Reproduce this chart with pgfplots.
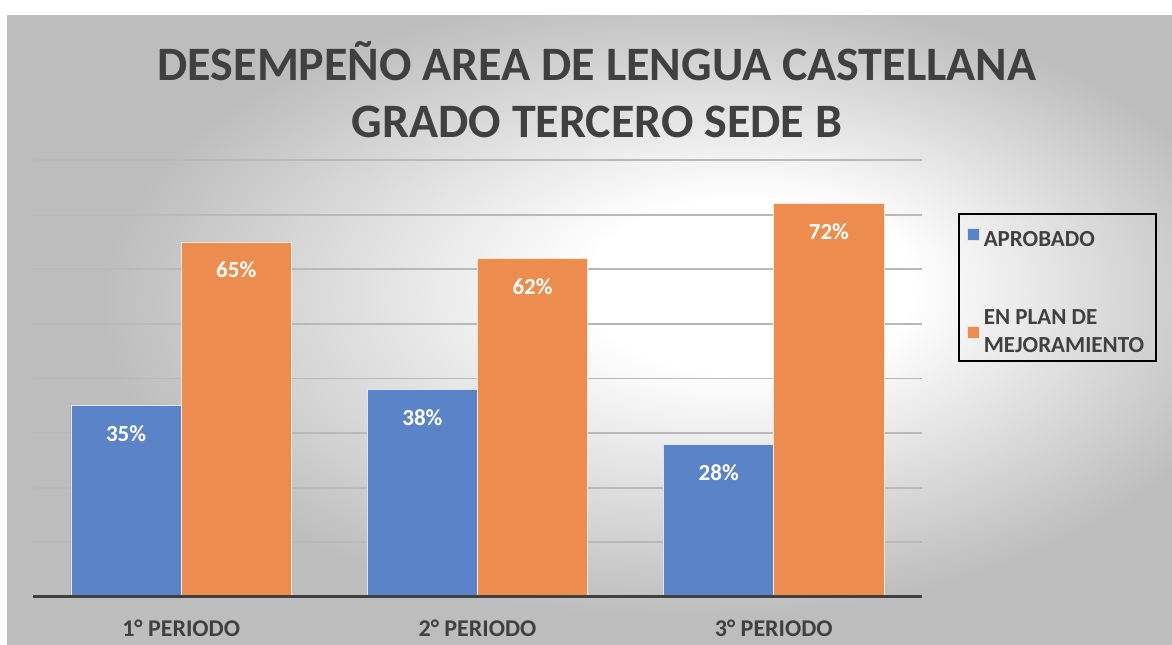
\documentclass[border=0pt]{standalone}
\usepackage{fontspec}
\setmainfont{Carlito}
\usepackage{pgfplots}
\pgfplotsset{compat=1.18}
\definecolor{barblue}{HTML}{5B84C8}
\definecolor{barorange}{HTML}{EC8C4E}
\definecolor{txtgray}{HTML}{404040}
\pgfdeclareradialshading{panelbg}{\pgfpoint{8bp}{4bp}}{%
  color(0bp)=(white); color(7bp)=(white); color(25bp)=(gray!52); color(50bp)=(gray!52)}
\begin{document}
\begin{tikzpicture}
% page and shaded panel (1px = 0.5pt)
\fill[white] (0,0) rectangle (586pt,-322pt);
\shade[shading=panelbg] (3.5pt,-7.5pt) rectangle (586pt,-322pt);
\node[font=\bfseries\fontsize{24}{28.5}\selectfont, text=txtgray, align=center]
  at (298.5pt,-45pt) {DESEMPEÑO AREA DE LENGUA CASTELLANA\\GRADO TERCERO SEDE B};

\begin{axis}[
    at={(16.5pt,-298.5pt)}, anchor=south west,
    scale only axis,
    width=444.5pt, height=218.5pt,
    ybar=0pt, bar width=0.372,
    xmin=-0.5, xmax=2.5,
    ymin=0, ymax=80,
    xtick=data,
    xticklabels={1° PERIODO, 2° PERIODO, 3° PERIODO},
    ytick={10,20,...,80}, yticklabels={},
    major tick length=0pt,
    axis line style={draw=none},
    ymajorgrids=true,
    grid style={color=gray!55, line width=0.9pt},
    /pgf/number format/assume math mode=true,
    xticklabel style={font=\bfseries\fontsize{12}{14}\selectfont, text=txtgray, yshift=-8pt},
    nodes near coords={\pgfmathprintnumber{\pgfplotspointmeta}\%},
    nodes near coords style={font=\bfseries\fontsize{11.5}{14}\selectfont, text=white, anchor=north, yshift=-6.5pt},
    legend style={at={(1.0405,0.879)}, anchor=north west, draw=black, line width=1pt,
        fill=none, font=\bfseries\fontsize{11.5}{14}\selectfont, text=txtgray,
        inner xsep=4pt, inner ysep=0.5pt, row sep=26pt,
        cells={anchor=west, align=left}},
    legend image code/.code={\fill[#1] (0pt,-3pt) rectangle (6pt,3pt);},
]
\addplot[fill=barblue, draw=white!80!barblue, line width=0.4pt]
    coordinates {(0,35) (1,38) (2,28)};
\addlegendentry{\rule{0pt}{14pt}APROBADO}
\addplot[fill=barorange, draw=white!80!barorange, line width=0.4pt]
    coordinates {(0,65) (1,62) (2,72)};
\addlegendentry{EN PLAN DE\\MEJORAMIENTO}
\draw[color=txtgray, line width=1.8pt] (axis cs:-0.5,0) -- (axis cs:2.5,0);
\end{axis}
\end{tikzpicture}
\end{document}
